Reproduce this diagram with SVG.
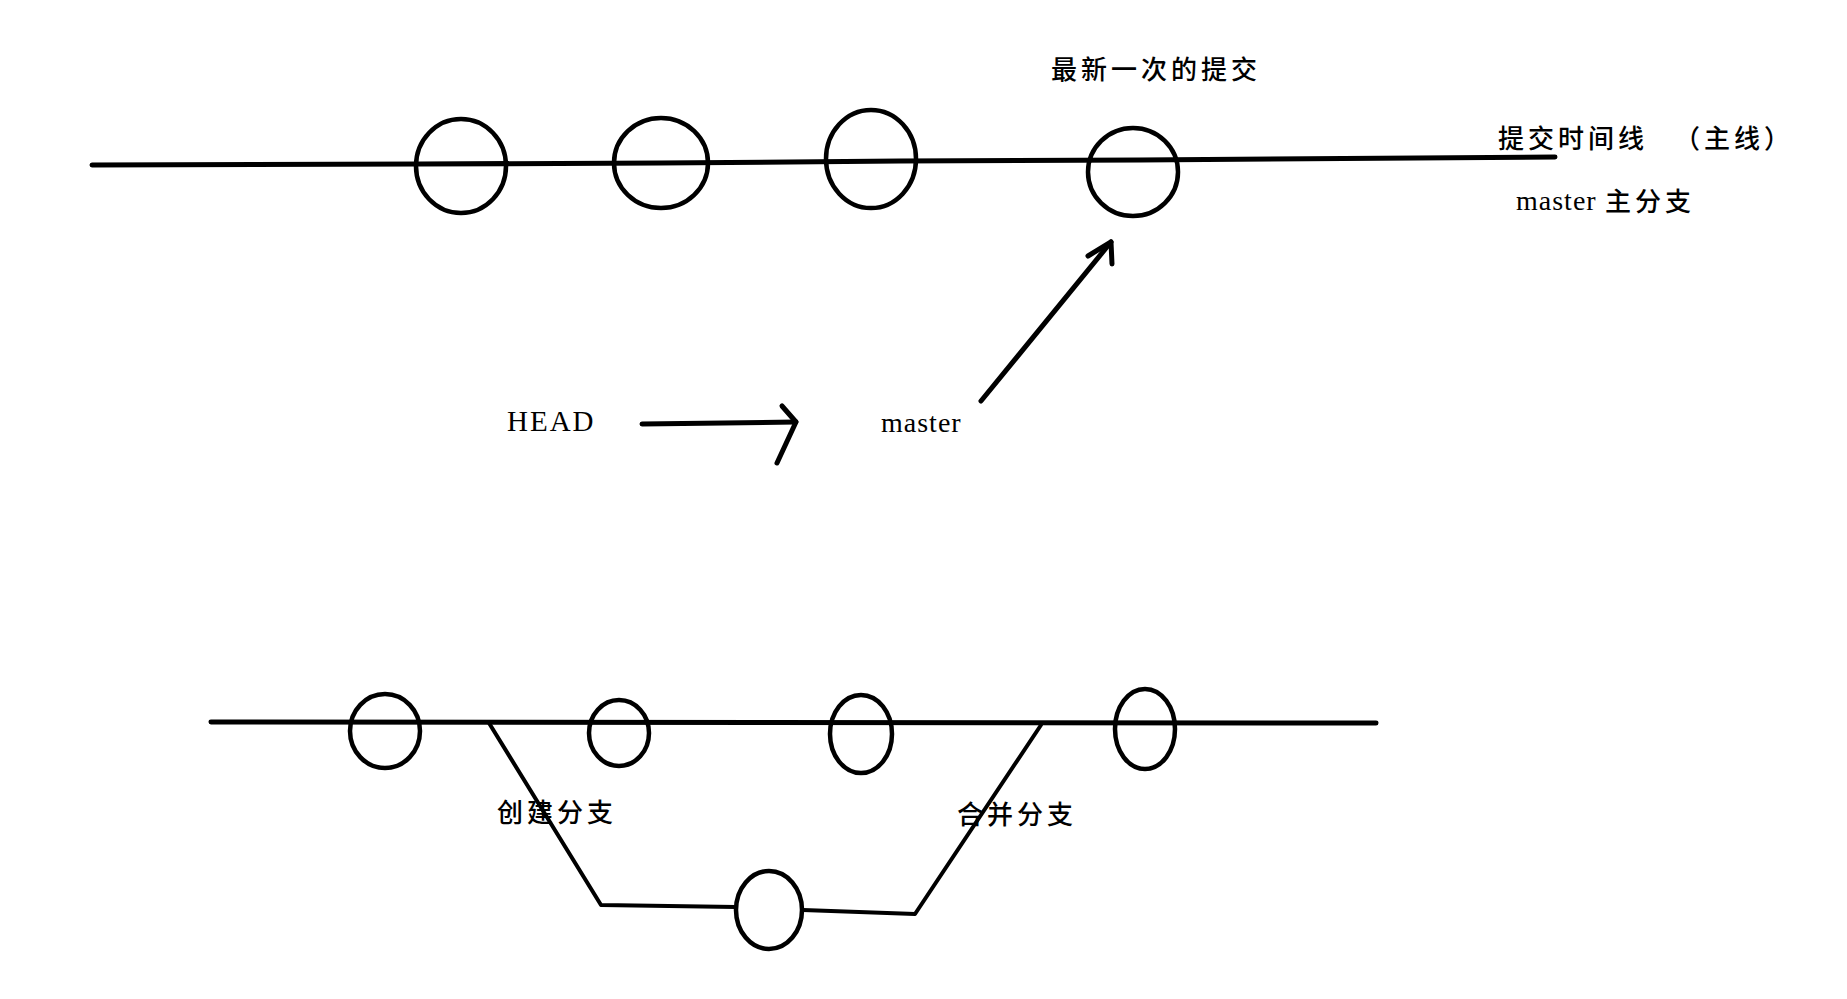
<svg xmlns="http://www.w3.org/2000/svg" width="1847" height="999" viewBox="0 0 1847 999">
<style>
.ln{fill:none;stroke:#000;stroke-width:5;stroke-linecap:round;stroke-linejoin:round}
.br{fill:none;stroke:#000;stroke-width:4;stroke-linecap:round;stroke-linejoin:round}
.node{fill:none;stroke:#000;stroke-width:4.5}
.cn{font-family:"Noto Sans CJK SC","Liberation Serif",serif;font-size:26px;font-weight:500;letter-spacing:4px;fill:#000}
.en{font-family:"Liberation Serif","Noto Sans CJK SC",serif;font-size:28px;letter-spacing:1px;fill:#000}
</style>
<rect width="1847" height="999" fill="#fff"/>
<g id="connectors">
  <polyline class="ln" points="92,165 420,164 660,163 900,161 1140,160 1555,157"/>
  <line class="ln" x1="642" y1="424" x2="796" y2="422"/>
  <polyline class="ln" points="782,406 796,422 777,463"/>
  <line class="ln" x1="981" y1="401" x2="1111" y2="242"/>
  <polyline class="ln" points="1088,256 1111,242 1112,264"/>
  <line class="ln" x1="211" y1="722" x2="1376" y2="723"/>
  <polyline class="br" points="489,723 601,905 736,907"/>
  <polyline class="br" points="803,910 915,914 1041,725"/>
</g>
<g id="c1"><ellipse class="node" cx="461" cy="166" rx="45" ry="47"/></g>
<g id="c2"><ellipse class="node" cx="661" cy="163" rx="47" ry="45"/></g>
<g id="c3"><ellipse class="node" cx="871" cy="159" rx="45" ry="49"/></g>
<g id="c4"><ellipse class="node" cx="1133" cy="172" rx="45" ry="44"/></g>
<g id="b1"><ellipse class="node" cx="385" cy="731" rx="35" ry="37"/></g>
<g id="b2"><ellipse class="node" cx="619" cy="733" rx="30" ry="33"/></g>
<g id="b3"><ellipse class="node" cx="861" cy="734" rx="31" ry="39"/></g>
<g id="b4"><ellipse class="node" cx="1145" cy="729" rx="30" ry="40"/></g>
<g id="b5"><ellipse class="node" cx="769" cy="910" rx="33" ry="39"/></g>
<g id="labels">
  <text class="cn" x="1051" y="79">最新一次的提交</text>
  <text class="cn" x="1498" y="148">提交时间线<tspan x="1674">（主线）</tspan></text>
  <text class="en" x="1516" y="210">master <tspan class="cn" x="1605" y="211">主分支</tspan></text>
  <text class="en" x="507" y="431" style="font-size:29px;letter-spacing:2px">HEAD</text>
  <text class="en" x="881" y="432">master</text>
  <text class="cn" x="497" y="822">创建分支</text>
  <text class="cn" x="957" y="824">合并分支</text>
</g>
</svg>
